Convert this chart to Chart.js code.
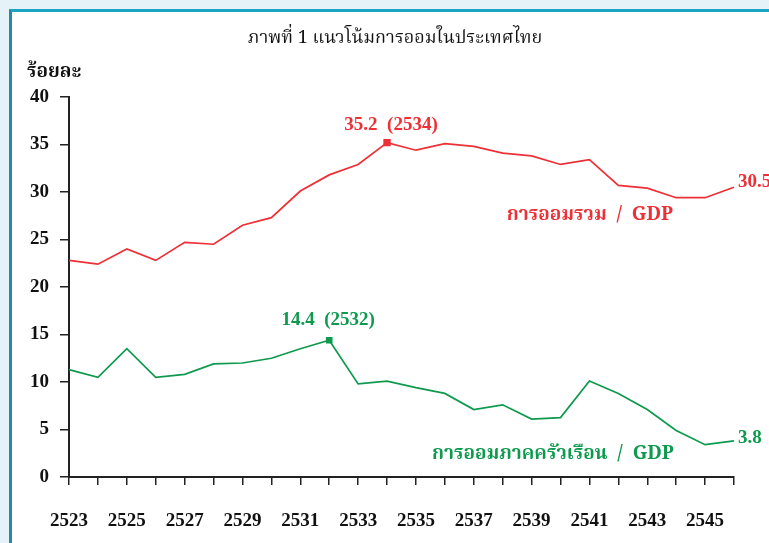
<!DOCTYPE html>
<html>
<head>
<meta charset="utf-8">
<script src="https://cdn.jsdelivr.net/npm/chart.js@4.4.1/dist/chart.umd.min.js"></script>
<style>
  html, body { margin: 0; padding: 0; background: #e5f3f9; width: 769px; height: 543px; overflow: hidden; }
  #panel { position: absolute; left: 9px; top: 9px; width: 800px; height: 600px; background: #ffffff;
           border-top: 3px solid #1aa5c7; border-left: 3px solid #2689a7; }
  #c { position: absolute; left: 0; top: 0; }
</style>
</head>
<body>
<div id="panel"></div>
<canvas id="c" width="769" height="543"></canvas>
<script>
const years = ["2523","2524","2525","2526","2527","2528","2529","2530","2531","2532","2533","2534",
               "2535","2536","2537","2538","2539","2540","2541","2542","2543","2544","2545","2546"];
const totalSaving = [22.8,22.4,24.0,22.8,24.7,24.5,26.5,27.3,30.1,31.8,32.9,35.2,
                     34.4,35.1,34.8,34.1,33.8,32.9,33.4,30.7,30.4,29.4,29.4,30.5];
const householdSaving = [11.3,10.5,13.5,10.5,10.8,11.9,12.0,12.5,13.5,14.4,9.8,10.1,
                         9.4,8.8,7.1,7.6,6.1,6.25,10.1,8.8,7.1,4.9,3.4,3.8];
const yTicks = [0,5,10,15,20,25,30,35,40];
const titleText = "ภาพที่ 1 แนวโน้มการออมในประเทศไทย";
const yUnit = "ร้อยละ";
const totalName = "การออมรวม  /  GDP";
const householdName = "การออมภาคครัวเรือน  /  GDP";

const RED = "#ee2f36";
const GREEN = "#0e9a4e";
const SERIF = "'Liberation Serif', 'Times New Roman', serif";
const THAI = "'Noto Serif Thai', 'Liberation Serif', 'Noto Sans Thai', serif";

function peakIndex(arr){ let m=0; arr.forEach((v,i)=>{ if(v>arr[m]) m=i; }); return m; }
const pTot = peakIndex(totalSaving);
const pHh = peakIndex(householdSaving);

const textPlugin = {
  id: 'texts',
  afterDraw(chart){
    const ctx = chart.ctx, x = chart.scales.x, y = chart.scales.y;
    const n = years.length - 1;
    ctx.save();
    ctx.fillStyle = "#111";
    ctx.textAlign = "center"; ctx.textBaseline = "middle";
    ctx.font = "18px " + THAI;
    ctx.fillText(titleText, 395, 40);
    ctx.textAlign = "left";
    ctx.font = "bold 19px " + THAI;
    ctx.fillText(yUnit, 27, 74);
    ctx.font = "bold 19px " + SERIF;
    ctx.textAlign = "center";
    ctx.fillStyle = RED;
    ctx.fillText(totalSaving[pTot].toFixed(1) + "  (" + years[pTot] + ")", x.getPixelForValue(pTot) + 4, y.getPixelForValue(totalSaving[pTot]) - 18);
    ctx.fillStyle = GREEN;
    ctx.fillText(householdSaving[pHh].toFixed(1) + "  (" + years[pHh] + ")", x.getPixelForValue(pHh) - 1, y.getPixelForValue(householdSaving[pHh]) - 20);
    ctx.textAlign = "left";
    ctx.fillStyle = RED;
    ctx.fillText(totalSaving[n].toFixed(1), x.getPixelForValue(n) + 4, y.getPixelForValue(totalSaving[n]) - 5);
    ctx.fillStyle = GREEN;
    ctx.fillText(householdSaving[n].toFixed(1), x.getPixelForValue(n) + 4, y.getPixelForValue(householdSaving[n]) - 3);
    ctx.textAlign = "center";
    ctx.font = "bold 19px " + THAI;
    ctx.fillStyle = RED;
    ctx.fillText(totalName, 590, 217);
    ctx.fillStyle = GREEN;
    ctx.fillText(householdName, 553, 456);
    ctx.restore();
  }
};

new Chart(document.getElementById('c'), {
  type: 'line',
  data: {
    labels: years,
    datasets: [
      { data: totalSaving, borderColor: RED, backgroundColor: RED, borderWidth: 1.7,
        pointStyle: 'rect', pointRadius: totalSaving.map((v,i)=> i===pTot ? 4 : 0), tension: 0 },
      { data: householdSaving, borderColor: GREEN, backgroundColor: GREEN, borderWidth: 1.7,
        pointStyle: 'rect', pointRadius: householdSaving.map((v,i)=> i===pHh ? 3.5 : 0), tension: 0 }
    ]
  },
  options: {
    responsive: false,
    animation: false,
    events: [],
    layout: { padding: { top: 97, right: 35, left: 0, bottom: 0 } },
    plugins: { legend: { display: false }, tooltip: { enabled: false } },
    scales: {
      x: {
        offset: false,
        grid: { display: true, drawOnChartArea: false, drawTicks: true, tickLength: 8, color: "#222", lineWidth: 1.5 },
        border: { display: true, color: "#222", width: 2 },
        ticks: { autoSkip: false, maxRotation: 0, padding: 25, color: "#111",
                 font: { family: SERIF, size: 19, weight: 'bold' },
                 callback: (v, i) => (i % 2 === 0 && i < years.length - 1) ? years[i] : "" },
        afterFit: (s) => { s.height = 66; }
      },
      y: {
        min: 0, max: 40,
        afterBuildTicks: (s) => { s.ticks = yTicks.map(v => ({ value: v })); },
        grid: { display: true, drawOnChartArea: false, drawTicks: true, tickLength: 9, color: "#222", lineWidth: 1.5 },
        border: { display: true, color: "#222", width: 2 },
        ticks: { padding: 11, color: "#111", font: { family: SERIF, size: 19, weight: 'bold' } },
        afterFit: (s) => { s.width = 69; }
      }
    }
  },
  plugins: [textPlugin]
});
</script>
</body>
</html>
